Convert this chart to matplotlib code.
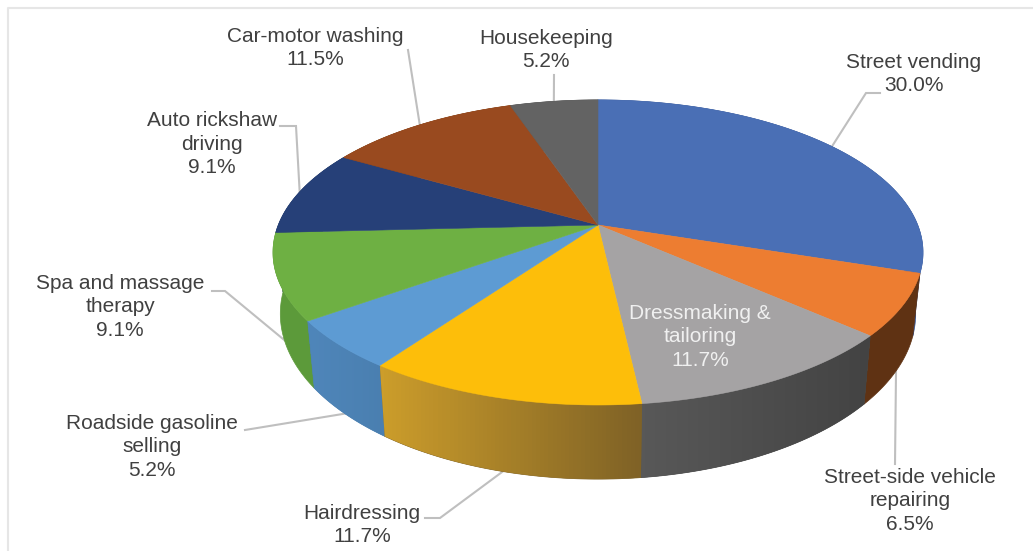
import numpy as np
import matplotlib
matplotlib.use("Agg")
import matplotlib.pyplot as plt
from matplotlib.patches import Polygon

plt.rcParams['font.family'] = ['Liberation Sans', 'DejaVu Sans']

labels = ["Street vending", "Street-side vehicle\nrepairing", "Dressmaking &\ntailoring",
          "Hairdressing", "Roadside gasoline\nselling", "Spa and massage\ntherapy",
          "Auto rickshaw\ndriving", "Car-motor washing", "Housekeeping"]
shares = [30.0, 6.5, 11.7, 11.7, 5.2, 9.1, 9.1, 11.5, 5.2]
top_colors = ["#4a6fb5", "#ed7d31", "#a5a3a4", "#fdbe0a", "#5d9bd3", "#6eb043", "#264078", "#994a1f", "#636363"]
# left and right colour of each slice's side wall
wall_colors = [("#3c5a96", "#3c5a96"), ("#5f3213", "#5f3213"), ("#585858", "#434343"),
               ("#cc9d2b", "#7f6226"), ("#4f86ba", "#4a7fb0"), ("#5c9a3a", "#5c9a3a"),
               ("#1e3660", "#1e3660"), ("#7a380b", "#7a380b"), ("#4c4c4c", "#4c4c4c")]

# label centre and leader elbow for each slice (None = label sits on the slice)
label_pos = [(914, 74), (910, 501), (700, 337), (362, 525), (152, 447), (120, 307), (212, 144), (315, 48), (546, 50)]
elbows = [(866, 93), (895, 464), None, (440, 518), (245, 430), (225, 291), (296, 126), (408, 50), (554, 75)]
elbow_ends = [(880, 93), None, None, (425, 518), None, (212, 291), (280, 126), None, None]

# pie projection, in pixels
cx, cy = 598, 225
persp = 0.18


def top_edge(theta):
    x, y = np.sin(theta), np.cos(theta)
    d = 1 + persp * y
    return cx + 319.7 * x / d, cy - 147.6 * y / d


def bottom_edge(theta):
    x, y = np.sin(theta), np.cos(theta)
    d = 1 + persp * y
    return cx + 312.5 * x / d, cy + 59 - 160 * y / d


fig = plt.figure(figsize=(10.33, 5.51), dpi=100)
ax = fig.add_axes([0, 0, 1, 1])

bounds = np.radians(np.concatenate([[0], np.cumsum(shares)]) * 3.6)

# side walls, back slices first
order = sorted(range(len(shares)), key=lambda i: np.cos((bounds[i] + bounds[i + 1]) / 2), reverse=True)
for i in order:
    t = np.linspace(bounds[i], bounds[i + 1], 80)
    ux, uy = top_edge(t)
    lx, ly = bottom_edge(t)
    pts = np.column_stack([np.r_[ux, lx[::-1]], np.r_[uy, ly[::-1]]])
    left, right = wall_colors[i]
    poly = Polygon(pts, closed=True, facecolor=right, edgecolor=right, lw=0.5, zorder=2)
    ax.add_patch(poly)
    if left != right:
        c0 = np.array(matplotlib.colors.to_rgb(left))
        c1 = np.array(matplotlib.colors.to_rgb(right))
        grad = np.linspace(0, 1, 64)[:, None]
        img = (c0 + (c1 - c0) * grad)[None, :, :]
        im = ax.imshow(img, extent=[pts[:, 0].min(), pts[:, 0].max(), pts[:, 1].max(), pts[:, 1].min()],
                       aspect='auto', zorder=2.1)
        im.set_clip_path(poly)

# top faces
for i in range(len(shares)):
    t = np.linspace(bounds[i], bounds[i + 1], 120)
    ex, ey = top_edge(t)
    pts = np.column_stack([np.r_[cx, ex], np.r_[cy, ey]])
    ax.add_patch(Polygon(pts, closed=True, facecolor=top_colors[i], edgecolor=top_colors[i], lw=0.4, zorder=3))

# leaders and labels
for i, name in enumerate(labels):
    text = name + "\n" + f"{shares[i]:.1f}%"
    inside = elbows[i] is None
    ax.text(label_pos[i][0], label_pos[i][1], text, ha='center', va='center', fontsize=15,
            color='#f0f0f0' if inside else '#404040', linespacing=1.3, zorder=5)
    if inside:
        continue
    mid = (bounds[i] + bounds[i + 1]) / 2
    # front slices are reached at the lower rim
    ax_, ay_ = bottom_edge(mid) if np.cos(mid) < 0 else top_edge(mid)
    xs, ys = [ax_, elbows[i][0]], [ay_, elbows[i][1]]
    if elbow_ends[i] is not None:
        xs.append(elbow_ends[i][0])
        ys.append(elbow_ends[i][1])
    ax.plot(xs, ys, color='#bfbfbf', lw=1.5, zorder=1, solid_joinstyle='miter')

# chart frame
ax.plot([1033, 8, 8], [8, 8, 551], color='#e6e6e6', lw=1.5, zorder=0)

ax.set_xlim(0, 1033)
ax.set_ylim(551, 0)
ax.axis('off')
fig.savefig('out.png', dpi=100)
